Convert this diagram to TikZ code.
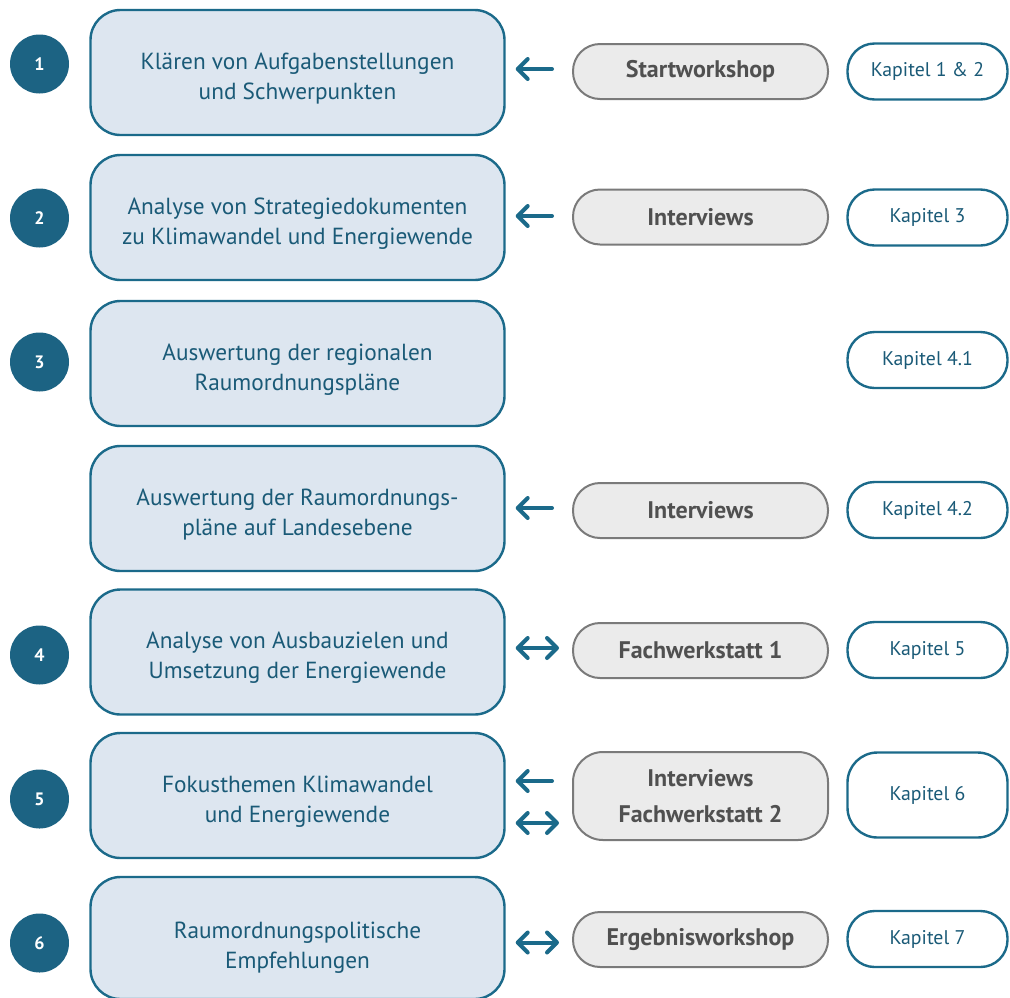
\documentclass[tikz,border=0pt]{standalone}
\usepackage{fontspec}
\setmainfont{PT Sans}
\usetikzlibrary{arrows.meta}
\definecolor{tealB}{HTML}{1B6A8A}
\definecolor{circfill}{HTML}{1C6383}
\definecolor{mainfill}{HTML}{DDE6F0}
\definecolor{maintext}{HTML}{1A5A77}
\definecolor{grayfill}{HTML}{EBEBEB}
\definecolor{grayB}{HTML}{7A7A7A}
\definecolor{graytext}{HTML}{505050}
\newcommand{\lowtext}[2][-5.5pt]{\raisebox{#1}[\height][\depth]{\begin{tabular}{@{}c@{}}#2\end{tabular}}}
\tikzset{
  mainbox/.style={draw=tealB, line width=2.4pt, fill=mainfill, rounded corners=30pt,
    minimum width=414pt, minimum height=125pt, text=maintext, align=center,
    font=\fontsize{23.3}{30}\selectfont, inner sep=0pt},
  graybox/.style={draw=grayB, line width=2pt, fill=grayfill, rounded corners=27pt,
    minimum width=255pt, minimum height=55pt, text=graytext, align=center,
    font=\bfseries\fontsize{24}{36}\selectfont, inner sep=0pt},
  kapbox/.style={draw=tealB, line width=2.4pt, fill=white, rounded corners=27pt,
    minimum width=160pt, minimum height=56pt, text=maintext, align=center,
    font=\fontsize{19.8}{22}\selectfont, inner sep=0pt},
  numcirc/.style={circle, fill=circfill, minimum size=59pt, inner sep=0pt,
    text=white, font=\bfseries\fontsize{18}{18}\selectfont},
  arr/.style={draw=tealB, line width=4pt, line cap=round,
    -{Straight Barb[round,length=10pt,width=20pt]}, shorten <=20pt, shorten >=10pt},
  darr/.style={draw=tealB, line width=4pt, line cap=round,
    {Straight Barb[round,length=10pt,width=20pt]}-{Straight Barb[round,length=10pt,width=20pt]},
    shorten <=13pt, shorten >=10pt}
}
\begin{document}
\begin{tikzpicture}[x=1pt,y=-1pt]
\useasboundingbox (0,0) rectangle (1010,997);
% main boxes
\node[mainbox] (b1) at (297.5,72.5) {\lowtext{Klären von Aufgabenstellungen\\und Schwerpunkten}};
\node[mainbox] (b2) at (297.5,217.5) {\lowtext{Analyse von Strategiedokumenten\\zu Klimawandel und Energiewende}};
\node[mainbox] (b3) at (297.5,363.5) {\lowtext{Auswertung der regionalen\\Raumordnungspläne}};
\node[mainbox] (b3b) at (297.5,508.5) {\lowtext{Auswertung der Raumordnungs-\\pläne auf Landesebene}};
\node[mainbox] (b4) at (297.5,652) {\lowtext{Analyse von Ausbauzielen und\\Umsetzung der Energiewende}};
\node[mainbox] (b5) at (297.5,795.5) {\lowtext{Fokusthemen Klimawandel\\und Energiewende}};
\node[mainbox, minimum height=122pt] (b6) at (297.5,938) {\lowtext[-9pt]{Raumordnungspolitische\\Empfehlungen}};
% number circles
\node[numcirc] (c1) at (39.5,64) {1};
\node[numcirc] (c2) at (39.5,218) {2};
\node[numcirc] (c3) at (39.5,362) {3};
\node[numcirc] (c4) at (39.5,655) {4};
\node[numcirc] (c5) at (39.5,799) {5};
\node[numcirc] (c6) at (39.5,943) {6};
% gray boxes
\node[graybox] (s1) at (700.5,71.5) {Startworkshop};
\node[graybox] (s2) at (700.5,217) {Interviews};
\node[graybox] (s3b) at (700.5,510.5) {Interviews};
\node[graybox] (s4) at (700.5,650.5) {Fachwerkstatt 1};
\node[graybox, minimum height=88pt, rounded corners=30pt] (s5) at (700.5,796) {Interviews\\Fachwerkstatt 2};
\node[graybox] (s6) at (700.5,939.5) {Ergebnisworkshop};
% kapitel boxes
\node[kapbox] (k1) at (927.5,71.5) {Kapitel 1 \& 2};
\node[kapbox] (k2) at (927.5,217.5) {Kapitel 3};
\node[kapbox] (k3) at (927.5,360) {Kapitel 4.1};
\node[kapbox] (k3b) at (927.5,510) {Kapitel 4.2};
\node[kapbox] (k4) at (927.5,650) {Kapitel 5};
\node[kapbox, minimum height=85pt, rounded corners=30pt] (k5) at (927.5,795) {Kapitel 6};
\node[kapbox] (k6) at (927.5,939) {Kapitel 7};
% arrows
\draw[arr] ([yshift=2.5pt]s1.west) -- ([yshift=2.5pt]s1.west -| b1.east);
\draw[arr] ([yshift=1pt]s2.west) -- ([yshift=1pt]s2.west -| b2.east);
\draw[arr] ([yshift=2.5pt]s3b.west) -- ([yshift=2.5pt]s3b.west -| b3b.east);
\draw[darr] ([yshift=2.5pt]s4.west) -- ([yshift=2.5pt]s4.west -| b4.east);
\draw[arr] ([yshift=15pt]s5.west) -- ([yshift=15pt]s5.west -| b5.east);
\draw[darr] ([yshift=-27pt]s5.west) -- ([yshift=-27pt]s5.west -| b5.east);
\draw[darr] ([yshift=-3pt]s6.west) -- ([yshift=-3pt]s6.west -| b6.east);
\end{tikzpicture}
\end{document}
